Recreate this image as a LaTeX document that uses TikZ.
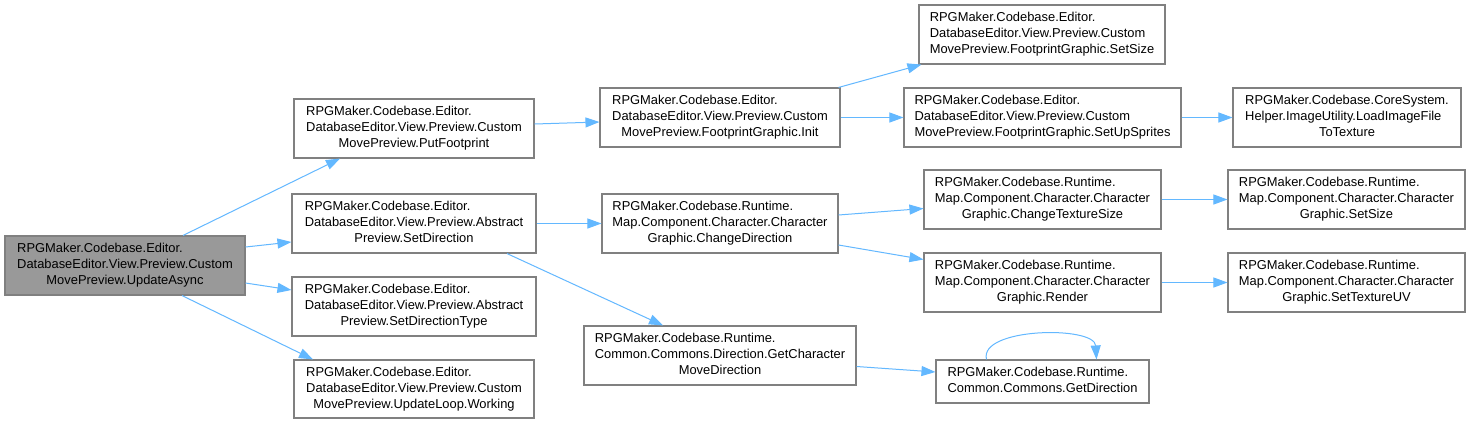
\documentclass[tikz,border=0pt]{standalone}
\usepackage{fontspec}
\setmainfont{Liberation Sans}
\usetikzlibrary{arrows.meta}
\definecolor{edgeblue}{HTML}{63B8FF}
\definecolor{boxborder}{HTML}{808080}
\definecolor{rootfill}{HTML}{999999}
\newcommand{\tri}[3]{\begin{tabular}{@{}l@{}}#1\\#2\\\multicolumn{1}{@{}c@{}}{#3}\end{tabular}}
\newcommand{\duo}[2]{\begin{tabular}{@{}l@{}}#1\\#2\end{tabular}}
\begin{document}
\begin{tikzpicture}[x=1pt,y=-1pt,
  box/.style={draw=boxborder, line width=1.1pt, fill=white, inner sep=0pt,
    font=\fontsize{12.9}{16}\selectfont, text=black},
  root/.style={box, fill=rootfill},
  conn/.style={draw=edgeblue, line width=1pt, -{Triangle[length=14pt,width=10pt]}}]
\useasboundingbox (0,0) rectangle (1470,424);
\fill[white] (0,0) rectangle (1470,424);

\node[root, minimum width=240pt, minimum height=59pt] (ua) at (125,265.5)
  {\tri{RPGMaker.Codebase.Editor.}{DatabaseEditor.View.Preview.Custom}{MovePreview.UpdateAsync}};
\node[box, minimum width=240pt, minimum height=59pt] (pf) at (414,128.5)
  {\tri{RPGMaker.Codebase.Editor.}{DatabaseEditor.View.Preview.Custom}{MovePreview.PutFootprint}};
\node[box, minimum width=244pt, minimum height=59pt] (sd) at (414,223.5)
  {\tri{RPGMaker.Codebase.Editor.}{DatabaseEditor.View.Preview.Abstract}{Preview.SetDirection}};
\node[box, minimum width=244pt, minimum height=59pt] (sdt) at (414,306.5)
  {\tri{RPGMaker.Codebase.Editor.}{DatabaseEditor.View.Preview.Abstract}{Preview.SetDirectionType}};
\node[box, minimum width=240pt, minimum height=58pt] (wk) at (414,389)
  {\tri{RPGMaker.Codebase.Editor.}{DatabaseEditor.View.Preview.Custom}{MovePreview.UpdateLoop.Working}};
\node[box, minimum width=240pt, minimum height=59pt] (init) at (720,117.5)
  {\tri{RPGMaker.Codebase.Editor.}{DatabaseEditor.View.Preview.Custom}{MovePreview.FootprintGraphic.Init}};
\node[box, minimum width=236pt, minimum height=59pt] (cd) at (720,223.5)
  {\tri{RPGMaker.Codebase.Runtime.}{Map.Component.Character.Character}{Graphic.ChangeDirection}};
\node[box, minimum width=272pt, minimum height=59pt] (gcmd) at (720,355.5)
  {\tri{RPGMaker.Codebase.Runtime.}{Common.Commons.Direction.GetCharacter}{MoveDirection}};
\node[box, minimum width=246pt, minimum height=59pt] (ss) at (1042,34.5)
  {\tri{RPGMaker.Codebase.Editor.}{DatabaseEditor.View.Preview.Custom}{MovePreview.FootprintGraphic.SetSize}};
\node[box, minimum width=277pt, minimum height=59pt] (sus) at (1042.5,117.5)
  {\tri{RPGMaker.Codebase.Editor.}{DatabaseEditor.View.Preview.Custom}{MovePreview.FootprintGraphic.SetUpSprites}};
\node[box, minimum width=228pt, minimum height=59pt] (li) at (1347,117.5)
  {\tri{RPGMaker.Codebase.CoreSystem.}{Helper.ImageUtility.LoadImageFile}{ToTexture}};
\node[box, minimum width=237pt, minimum height=59pt] (cts) at (1042.5,199.5)
  {\tri{RPGMaker.Codebase.Runtime.}{Map.Component.Character.Character}{Graphic.ChangeTextureSize}};
\node[box, minimum width=237pt, minimum height=59pt] (rn) at (1042.5,282.5)
  {\tri{RPGMaker.Codebase.Runtime.}{Map.Component.Character.Character}{Graphic.Render}};
\node[box, minimum width=213pt, minimum height=43pt] (gd) at (1042.5,381.5)
  {\duo{RPGMaker.Codebase.Runtime.}{Common.Commons.GetDirection}};
\node[box, minimum width=237pt, minimum height=59pt] (css) at (1346.5,199.5)
  {\tri{RPGMaker.Codebase.Runtime.}{Map.Component.Character.Character}{Graphic.SetSize}};
\node[box, minimum width=237pt, minimum height=59pt] (uv) at (1346.5,282.5)
  {\tri{RPGMaker.Codebase.Runtime.}{Map.Component.Character.Character}{Graphic.SetTextureUV}};

\draw[conn] ([xshift=58pt]ua.north) -- ([xshift=-74pt]pf.south);
\draw[conn] ([yshift=18.5pt]ua.east) -- ([yshift=-18.5pt]sd.west);
\draw[conn] ([yshift=-17.5pt]ua.east) -- ([yshift=16.5pt]sdt.west);
\draw[conn] ([xshift=57pt]ua.south) -- ([xshift=-101pt]wk.north);
\draw[conn] ([yshift=4.5pt]pf.east) -- ([yshift=-4.5pt]init.west);
\draw[conn] (sd.east) -- (cd.west);
\draw[conn] ([xshift=93pt]sd.south) -- ([xshift=-57pt]gcmd.north);
\draw[conn] ([xshift=-2pt]init.north east) -- ([xshift=3pt]ss.south west);
\draw[conn] (init.east) -- (sus.west);
\draw[conn] (sus.east) -- (li.west);
\draw[conn] ([yshift=8.5pt]cd.east) -- ([yshift=-9pt]cts.west);
\draw[conn] ([yshift=-21.5pt]cd.east) -- ([yshift=23pt]rn.west);
\draw[conn] (cts.east) -- (css.west);
\draw[conn] (rn.east) -- (uv.west);
\draw[conn] ([yshift=-11pt]gcmd.east) -- ([yshift=9.5pt]gd.west);
\draw[conn] ([xshift=-56pt]gd.north) .. controls +(-8,-32) and +(-2,-34) .. ([xshift=54pt]gd.north);
\end{tikzpicture}
\end{document}
